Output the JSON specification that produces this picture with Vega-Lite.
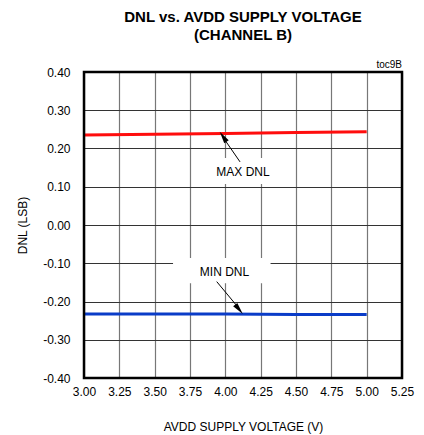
{
  "$schema": "https://vega.github.io/schema/vega-lite/v6.json",
  "width": 318,
  "height": 306,
  "autosize": {"type": "none"},
  "padding": {"left": 84, "top": 72, "right": 22, "bottom": 57},
  "background": "white",
  "config": {
    "font": "Liberation Sans",
    "view": {"stroke": null},
    "axis": {"labelFont": "Liberation Sans", "titleFont": "Liberation Sans", "labelColor": "#000", "titleColor": "#000", "titleFontWeight": "normal", "labelFontSize": 12, "titleFontSize": 12, "ticks": false, "domain": false, "zindex": 0}
  },
  "title": {
    "text": ["DNL vs. AVDD SUPPLY VOLTAGE", "(CHANNEL B)"],
    "font": "Liberation Sans",
    "fontSize": 15,
    "fontWeight": "bold",
    "lineHeight": 18,
    "color": "#000",
    "anchor": "middle",
    "offset": 17
  },
  "datasets": {
    "series": [
      {"x": 3.0, "y": 0.235, "s": "MAX DNL"},
      {"x": 3.5, "y": 0.237, "s": "MAX DNL"},
      {"x": 4.0, "y": 0.239, "s": "MAX DNL"},
      {"x": 4.5, "y": 0.242, "s": "MAX DNL"},
      {"x": 5.0, "y": 0.244, "s": "MAX DNL"},
      {"x": 3.0, "y": -0.233, "s": "MIN DNL"},
      {"x": 3.5, "y": -0.233, "s": "MIN DNL"},
      {"x": 4.0, "y": -0.233, "s": "MIN DNL"},
      {"x": 4.5, "y": -0.234, "s": "MIN DNL"},
      {"x": 5.0, "y": -0.234, "s": "MIN DNL"}
    ],
    "boxes": [
      {"x": 3.906, "x2": 4.352, "y": 0.175, "y2": 0.107},
      {"x": 3.63, "x2": 4.32, "y": -0.086, "y2": -0.152}
    ],
    "arrows": [
      {"x": 4.104, "y": 0.165, "x2": 3.99, "y2": 0.226, "hx": 3.987, "hy": 0.229, "a": 326},
      {"x": 3.939, "y": -0.148, "x2": 4.09, "y2": -0.215, "hx": 4.094, "hy": -0.219, "a": 141}
    ],
    "labels": [
      {"x": 4.125, "y": 0.139, "t": "MAX DNL"},
      {"x": 3.994, "y": -0.123, "t": "MIN DNL"}
    ],
    "frame": [
      {"x": 3.0, "x2": 5.25, "y": -0.4, "y2": 0.4}
    ]
  },
  "encoding": {
    "x": {
      "field": "x", "type": "quantitative",
      "scale": {"domain": [3, 5.25], "nice": false, "zero": false},
      "axis": {"values": [3, 3.25, 3.5, 3.75, 4, 4.25, 4.5, 4.75, 5, 5.25], "format": ".2f", "grid": true, "gridColor": "#777", "gridWidth": 1.2, "labelPadding": 8, "titlePadding": 24, "title": "AVDD SUPPLY VOLTAGE (V)", "labelFlush": false}
    },
    "y": {
      "field": "y", "type": "quantitative",
      "scale": {"domain": [-0.4, 0.4], "nice": false, "zero": false},
      "axis": {"values": [-0.4, -0.3, -0.2, -0.1, 0, 0.1, 0.2, 0.3, 0.4], "labelExpr": "datum.value < -0.001 ? '-' + format(-datum.value, '.2f') : format(abs(datum.value), '.2f')", "grid": true, "gridColor": "#333", "gridWidth": 1, "labelPadding": 14, "titlePadding": 13, "title": "DNL (LSB)", "labelFlush": false}
    }
  },
  "layer": [
    {
      "data": {"name": "boxes"},
      "mark": {"type": "rect", "fill": "white", "stroke": null},
      "encoding": {"x2": {"field": "x2"}, "y2": {"field": "y2"}}
    },
    {
      "data": {"name": "series"},
      "mark": {"type": "line", "strokeWidth": 3},
      "encoding": {
        "color": {"field": "s", "type": "nominal", "scale": {"domain": ["MAX DNL", "MIN DNL"], "range": ["#ff0d0d", "#0a3cc8"]}, "legend": null}
      }
    },
    {
      "data": {"name": "arrows"},
      "mark": {"type": "rule", "color": "#000", "strokeWidth": 1},
      "encoding": {"x2": {"field": "x2"}, "y2": {"field": "y2"}}
    },
    {
      "data": {"name": "arrows"},
      "mark": {"type": "point", "shape": "M0,-1L0.4,0.8L-0.4,0.8Z", "filled": true, "color": "#000", "opacity": 1, "size": 180},
      "encoding": {
        "x": {"field": "hx", "type": "quantitative"},
        "y": {"field": "hy", "type": "quantitative"},
        "angle": {"field": "a", "type": "quantitative", "scale": null}
      }
    },
    {
      "data": {"name": "labels"},
      "mark": {"type": "text", "font": "Liberation Sans", "fontSize": 12, "color": "#000", "align": "center", "baseline": "middle"},
      "encoding": {"text": {"field": "t"}}
    },
    {
      "data": {"values": [{"x": 5.25, "y": 0.4, "t": "toc9B"}]},
      "mark": {"type": "text", "font": "Liberation Sans", "fontSize": 10, "color": "#000", "align": "right", "baseline": "bottom", "dy": -2},
      "encoding": {"text": {"field": "t"}}
    },
    {
      "data": {"name": "frame"},
      "mark": {"type": "rect", "fill": null, "stroke": "#000", "strokeWidth": 2.5},
      "encoding": {"x2": {"field": "x2"}, "y2": {"field": "y2"}}
    }
  ]
}
